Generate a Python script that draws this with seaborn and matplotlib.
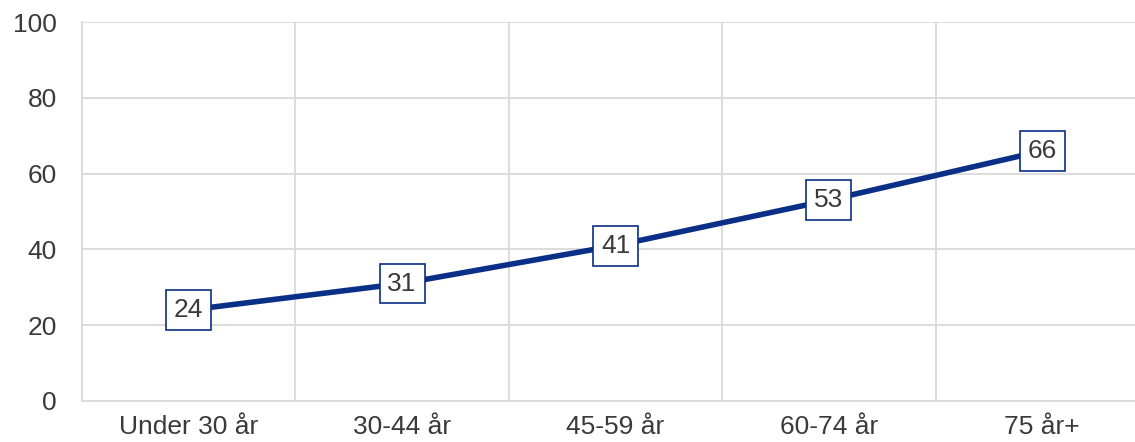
import matplotlib
matplotlib.use("Agg")
import matplotlib.pyplot as plt
import seaborn as sns
import pandas as pd

categories = ["Under 30 år", "30-44 år", "45-59 år", "60-74 år", "75 år+"]
values = [24, 31, 41, 53, 66]
yticks = [0, 20, 40, 60, 80, 100]

sns.set_theme(style="white")
plt.rcParams['font.family'] = ['Liberation Sans', 'DejaVu Sans']

navy = "#0a2f86"
grid = "#d9d9d9"
textc = "#3a3a3a"

fig = plt.figure(figsize=(11.35, 4.42), dpi=100)
ax = fig.add_axes([82/1135, 1-401/442, 1067/1135, 379/442])

df = pd.DataFrame({"cat": categories, "val": values})
df["pos"] = range(len(categories))
sns.lineplot(data=df, x="pos", y="val", ax=ax, color=navy, linewidth=4, sort=False)

for x, v in zip(df["pos"], df["val"]):
    ax.text(x, v, str(v), ha="center", va="center", fontsize=19, color=textc,
            bbox=dict(boxstyle="square,pad=0.3", facecolor="white", edgecolor=navy, linewidth=1.2),
            zorder=5)

ax.set_xlim(-0.5, len(categories) - 0.5)
ax.set_ylim(0, 100)
ax.set_yticks(yticks)
ax.set_yticklabels([str(t) for t in yticks])
ax.set_xticks(range(len(categories)))
ax.set_xticklabels(categories)
ax.set_xticks([i + 0.5 for i in range(-1, len(categories))], minor=True)
ax.set_xlabel("")
ax.set_ylabel("")

ax.grid(False)
ax.yaxis.grid(True, color=grid, linewidth=1.3)
ax.xaxis.grid(True, which="minor", color=grid, linewidth=1.3)
for s in ax.spines.values():
    s.set_visible(False)
ax.spines["left"].set_visible(True)
ax.spines["left"].set_color(grid)
ax.spines["left"].set_linewidth(1.3)
ax.spines["bottom"].set_visible(True)
ax.spines["bottom"].set_color(grid)
ax.spines["bottom"].set_linewidth(1.3)

ax.tick_params(axis="y", length=0, pad=18, labelsize=19, labelcolor=textc)
ax.tick_params(axis="x", which="both", length=0, pad=10, labelsize=19, labelcolor=textc)

fig.savefig("out.png", dpi=100)
